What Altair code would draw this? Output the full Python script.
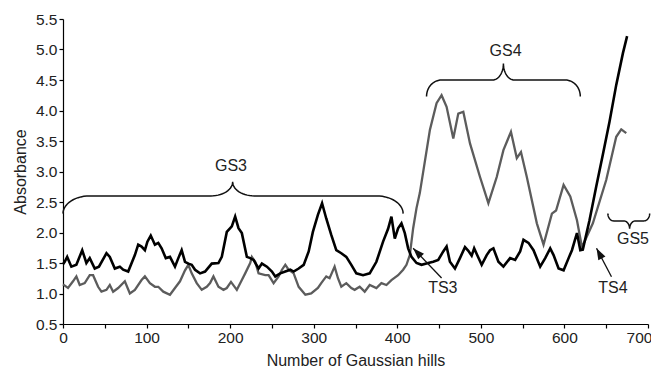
import math
import altair as alt
import pandas as pd

# ---- data ----
black_n = [0, 2, 5, 10, 16, 23, 28, 32, 38, 43,
           52, 56, 62, 68, 72, 78, 86, 90, 94, 98,
           101, 105, 110, 114, 118, 123, 128, 134, 138, 142,
           146, 150, 154, 158, 164, 170, 178, 186, 190, 196,
           202, 206, 210, 214, 220, 224, 228, 234, 238, 244,
           250, 254, 260, 266, 272, 276, 282, 288, 294, 299,
           305, 310, 315, 321, 327, 333, 339, 345, 351, 359,
           367, 375, 383, 389, 393, 397, 401, 405, 409, 413,
           417, 423, 429, 437, 443, 449, 455, 459, 463, 469,
           475, 481, 485, 489, 492, 496, 501, 507, 511, 515,
           521, 527, 535, 541, 547, 551, 557, 563, 571, 577,
           583, 587, 593, 599, 605, 609, 612, 615, 619, 622,
           630, 638, 646, 654, 662, 670, 675]
black_v = [1.48, 1.52, 1.60, 1.44, 1.47, 1.71, 1.50, 1.58, 1.41, 1.44,
           1.66, 1.60, 1.41, 1.44, 1.39, 1.36, 1.63, 1.80, 1.77, 1.71,
           1.85, 1.95, 1.80, 1.83, 1.74, 1.58, 1.60, 1.44, 1.58, 1.71,
           1.52, 1.49, 1.47, 1.39, 1.33, 1.36, 1.49, 1.50, 1.60, 2.01,
           2.10, 2.26, 2.07, 1.99, 1.60, 1.58, 1.55, 1.41, 1.49, 1.44,
           1.36, 1.28, 1.33, 1.36, 1.39, 1.36, 1.41, 1.47, 1.69, 2.01,
           2.29, 2.48, 2.23, 1.96, 1.71, 1.66, 1.60, 1.47, 1.33, 1.30,
           1.33, 1.52, 1.85, 2.06, 2.26, 1.90, 2.07, 2.15, 1.99, 1.74,
           1.60, 1.50, 1.47, 1.50, 1.52, 1.55, 1.69, 1.77, 1.52, 1.41,
           1.58, 1.76, 1.70, 1.62, 1.74, 1.62, 1.47, 1.63, 1.71, 1.74,
           1.52, 1.44, 1.58, 1.55, 1.69, 1.88, 1.83, 1.71, 1.44, 1.58,
           1.74, 1.63, 1.41, 1.38, 1.58, 1.71, 1.85, 1.99, 1.71, 1.72,
           2.20, 2.75, 3.28, 3.82, 4.42, 4.94, 5.22]

gray_n = [0, 6, 12, 16, 20, 26, 32, 36, 42, 46,
          52, 56, 60, 66, 74, 80, 86, 94, 98, 104,
          110, 114, 120, 128, 134, 140, 146, 150, 154, 160,
          166, 172, 176, 180, 186, 192, 196, 201, 208, 214,
          218, 224, 226, 230, 234, 242, 246, 252, 258, 262,
          266, 270, 276, 282, 290, 297, 305, 309, 315, 319,
          325, 329, 333, 339, 345, 349, 355, 361, 367, 375,
          381, 387, 393, 401, 407, 411, 415, 419, 423, 427,
          439, 447, 453, 459, 467, 473, 479, 487, 499, 509,
          519, 527, 536, 543, 548, 555, 567, 575, 585, 590,
          599, 607, 615, 621, 634, 650, 662, 668, 674]
gray_v = [1.15, 1.09, 1.20, 1.28, 1.14, 1.17, 1.30, 1.30, 1.11, 1.03,
          1.06, 1.14, 1.03, 1.09, 1.20, 1.00, 1.06, 1.22, 1.28, 1.17,
          1.11, 1.11, 1.03, 0.98, 1.09, 1.20, 1.38, 1.47, 1.33, 1.17,
          1.06, 1.11, 1.17, 1.28, 1.11, 1.06, 1.09, 1.19, 1.06, 1.22,
          1.33, 1.50, 1.60, 1.52, 1.33, 1.30, 1.30, 1.17, 1.28, 1.39,
          1.47, 1.39, 1.33, 1.11, 0.98, 1.00, 1.09, 1.17, 1.28, 1.25,
          1.44, 1.25, 1.11, 1.17, 1.09, 1.06, 1.11, 1.03, 1.14, 1.09,
          1.17, 1.14, 1.22, 1.30, 1.39, 1.47, 1.63, 2.07, 2.40, 2.65,
          3.68, 4.12, 4.25, 4.06, 3.54, 3.95, 3.98, 3.46, 2.91, 2.48,
          2.91, 3.35, 3.65, 3.22, 3.32, 2.91, 2.15, 1.80, 2.31, 2.36,
          2.78, 2.59, 2.20, 1.76, 2.15, 2.86, 3.57, 3.69, 3.63]

x_ticks = list(range(0, 701, 50))
y_ticks = [0.5, 1.0, 1.5, 2.0, 2.5, 3.0, 3.5, 4.0, 4.5, 5.0, 5.5]

# annotation labels
label_text = ["GS3", "GS4", "GS5", "TS3", "TS4"]
label_n = [201, 529.5, 682, 454.5, 658]
label_v = [3.09, 4.975, 1.90, 1.09, 1.09]

# arrows: tail -> tip
arrow_name = ["TS3", "TS4"]
arrow_tail_n = [453, 656.3]
arrow_tail_v = [1.254, 1.275]
arrow_tip_n = [419, 638.4]
arrow_tip_v = [1.741, 1.741]
arrow_angle = [316, 332]

# braces: left, right, centre, end level, line level, tip level, end-curve width, tip-curve width
brace_name = ["GS3", "GS4", "GS5"]
brace_left = [0, 435, 652]
brace_right = [407, 619, 702]
brace_center = [203, 527, 678]
brace_end = [2.31, 4.23, 2.31]
brace_line = [2.60, 4.50, 2.19]
brace_tip = [2.83, 4.77, 2.06]
brace_we = [32, 18, 7]
brace_wt = [26, 13, 7]

FONT = "Liberation Sans"

black_df = pd.DataFrame({"n": black_n, "v": black_v})
gray_df = pd.DataFrame({"n": gray_n, "v": gray_v})


def brace_points(name, nl, nr, nc, ve, vl, vt, we, wt, k=14):
    pts = []
    for i in range(k + 1):
        t = math.pi - (math.pi / 2) * i / k
        pts.append((nl + we + we * math.cos(t), ve + (vl - ve) * math.sin(t)))
    for i in range(k + 1):
        s = (math.pi / 2) * i / k
        pts.append((nc - wt + wt * math.sin(s), vt + (vl - vt) * math.cos(s)))
    for i in range(k + 1):
        s = (math.pi / 2) * (1 - i / k)
        pts.append((nc + wt - wt * math.sin(s), vt + (vl - vt) * math.cos(s)))
    for i in range(k + 1):
        t = (math.pi / 2) * (1 - i / k)
        pts.append((nr - we + we * math.cos(t), ve + (vl - ve) * math.sin(t)))
    return [{"brace": name, "i": j, "n": p[0], "v": p[1]} for j, p in enumerate(pts)]


rows = []
for b in zip(brace_name, brace_left, brace_right, brace_center, brace_end,
             brace_line, brace_tip, brace_we, brace_wt):
    rows += brace_points(*b)
brace_df = pd.DataFrame(rows)

label_df = pd.DataFrame({"t": label_text, "n": label_n, "v": label_v})
arrow_df = pd.DataFrame({"name": arrow_name, "n": arrow_tail_n, "v": arrow_tail_v,
                         "n2": arrow_tip_n, "v2": arrow_tip_v, "ang": arrow_angle})

xscale = alt.Scale(domain=[0, 700], nice=False)
yscale = alt.Scale(domain=[0.5, 5.5], nice=False)

x_axis = alt.Axis(values=x_ticks, labelExpr="datum.value % 100 === 0 ? datum.label : ''",
                  tickSize=4, labelPadding=2, titlePadding=7, labelFlush=False,
                  labelOverlap=False,
                  labelOffset={"condition": {"test": "datum.value === 700", "value": -9},
                               "value": 0})
y_axis = alt.Axis(values=y_ticks, labelExpr="format(datum.value, '.1f')",
                  tickSize=4, labelPadding=2, titlePadding=7,
                  labelOverlap=False, labelFlush=False)

XT = "Number of Gaussian hills"
YT = "Absorbance"


def X(field):
    return alt.X(field, scale=xscale, axis=x_axis, title=XT)


def Y(field):
    return alt.Y(field, scale=yscale, axis=y_axis, title=YT)


gray_line = alt.Chart(gray_df).mark_line(color="#5c5c5c", strokeWidth=2.3).encode(
    x=X("n:Q"), y=Y("v:Q"),
)
black_line = alt.Chart(black_df).mark_line(color="#000000", strokeWidth=2.6).encode(
    x=X("n:Q"), y=Y("v:Q"),
)
braces = alt.Chart(brace_df).mark_line(color="#111111", strokeWidth=1.5).encode(
    x=X("n:Q"), y=Y("v:Q"), detail="brace:N", order="i:Q",
)
arrow_lines = alt.Chart(arrow_df).mark_rule(color="#111111", strokeWidth=1.3).encode(
    x=X("n:Q"), y=Y("v:Q"), x2="n2:Q", y2="v2:Q",
)
arrow_heads = alt.Chart(arrow_df).mark_point(
    shape="M0,0L0.6,1.7L-0.6,1.7Z", filled=True, color="#111111", opacity=1, size=180
).encode(
    x=X("n2:Q"), y=Y("v2:Q"),
    angle=alt.Angle("ang:Q", scale=None),
)
labels = alt.Chart(label_df).mark_text(font=FONT, fontSize=16, color="#222222",
                                       baseline="middle", align="center").encode(
    x=X("n:Q"), y=Y("v:Q"), text="t:N"
)

chart = alt.layer(gray_line, black_line, braces, arrow_lines, arrow_heads, labels).properties(
    width=585, height=305,
    autosize=alt.AutoSizeParams(type="none"),
    padding={"left": 55, "top": 11, "right": 3, "bottom": 48},
).configure_view(stroke=None).configure_axis(
    grid=False, domainColor="#000000", tickColor="#000000", domainWidth=1.2, tickWidth=1.2,
    labelFont=FONT, labelFontSize=15.5, labelColor="#222222",
    titleFont=FONT, titleFontSize=16, titleFontWeight="normal", titleColor="#222222",
    labelOverlap=False,
)

chart.save("out.html", embed_options={"renderer": "svg", "actions": False})
